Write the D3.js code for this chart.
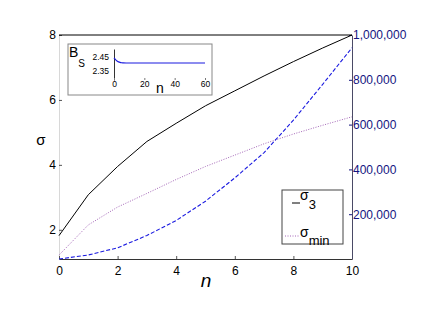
<!DOCTYPE html>
<html>
<head>
<meta charset="utf-8">
<script src="https://cdn.jsdelivr.net/npm/d3@7"></script>
<style>
  body { margin: 0; background: #fff; }
  text { font-family: "Liberation Sans", Arial, sans-serif; }
</style>
</head>
<body>
<div id="chart"></div>
<script>
// Width and height
var chartWidth  = 443;
var chartHeight = 313;

// data
var nValues     = [0, 1, 2, 3, 4, 5, 6, 7, 8, 9, 10];
var sigma3      = [1.82, 3.08, 3.95, 4.72, 5.28, 5.82, 6.28, 6.74, 7.18, 7.6, 8.0];
var sigmaMin    = [1.22, 2.15, 2.7, 3.12, 3.55, 3.95, 4.3, 4.65, 4.95, 5.22, 5.48];
var bigSeries   = [0, 18000, 50000, 105000, 172000, 258000, 362000, 475000, 620000, 780000, 943000];
var leftTicks   = [2, 4, 6, 8];
var rightTicks  = [200000, 400000, 600000, 800000, 1000000];
var bottomTicks = [0, 2, 4, 6, 8, 10];

// inset data
var insetN     = [0, 1, 2, 3, 4, 5, 6, 8, 10, 15, 20, 30, 40, 50, 60];
var insetB     = [2.44, 2.428, 2.419, 2.413, 2.409, 2.407, 2.406, 2.405, 2.405, 2.405, 2.405, 2.405, 2.405, 2.405, 2.405];
var insetYTicks = [2.35, 2.45];
var insetXTicks = [0, 20, 40, 60];

var navy = '#14147f';

var svg = d3.select('#chart')
    .append('svg')
    .attr('width', chartWidth)
    .attr('height', chartHeight);

svg.append('rect').attr('width', chartWidth).attr('height', chartHeight).attr('fill', '#fff');

// scales
var x = d3.scaleLinear().domain([0, 10]).range([59, 352]);
var yLeft = d3.scaleLinear().domain([1.1, 8]).range([259, 35]);
var yRight = d3.scaleLinear().domain([0, 1000000]).range([259, 35]);

// axes
var gLeft = svg.append('g')
    .attr('transform', 'translate(59,0)')
    .call(d3.axisLeft(yLeft).tickValues(leftTicks).tickFormat(d3.format('d'))
        .tickSize(-3).tickPadding(3).tickSizeOuter(0));
gLeft.select('.domain').attr('stroke', '#d8d8d8');
gLeft.selectAll('.tick line').attr('stroke', '#555');
gLeft.selectAll('text').attr('font-size', 12).attr('fill', '#000');

var gBottom = svg.append('g')
    .attr('transform', 'translate(0,259)')
    .call(d3.axisBottom(x).tickValues(bottomTicks).tickSize(-3).tickPadding(7).tickSizeOuter(0));
gBottom.select('.domain').attr('stroke', '#333');
gBottom.selectAll('.tick line').attr('stroke', '#555');
gBottom.selectAll('text').attr('font-size', 12).attr('fill', '#000');

var gRight = svg.append('g')
    .attr('transform', 'translate(352,0)')
    .call(d3.axisRight(yRight).tickValues(rightTicks).tickFormat(d3.format(','))
        .tickSize(-3).tickPadding(1).tickSizeOuter(0));
gRight.select('.domain').attr('stroke', '#4a4a66');
gRight.selectAll('.tick line').attr('stroke', navy);
gRight.selectAll('text').attr('font-size', 12).attr('fill', navy);

// top border
svg.append('line')
    .attr('x1', x(0)).attr('x2', x(10))
    .attr('y1', yLeft(8)).attr('y2', yLeft(8))
    .attr('stroke', '#000');

// lines
var lineLeft = function(vals){
    return d3.line()
        .x(function(d, i){ return x(nValues[i]); })
        .y(function(d){ return yLeft(d); })(vals);
};

svg.append('path')
    .attr('d', lineLeft(sigmaMin))
    .attr('fill', 'none')
    .attr('stroke', '#a466b8')
    .attr('stroke-width', 1)
    .attr('stroke-dasharray', '1,1.5');

svg.append('path')
    .attr('d', d3.line()
        .x(function(d, i){ return x(nValues[i]); })
        .y(function(d){ return yRight(d); })(bigSeries))
    .attr('fill', 'none')
    .attr('stroke', '#1a1ae0')
    .attr('stroke-width', 1.1)
    .attr('stroke-dasharray', '4,2');

svg.append('path')
    .attr('d', lineLeft(sigma3))
    .attr('fill', 'none')
    .attr('stroke', '#000')
    .attr('stroke-width', 1);

// axis labels
svg.append('text')
    .attr('x', 41).attr('y', 145)
    .attr('text-anchor', 'middle')
    .attr('font-size', 15)
    .text('σ');

svg.append('text')
    .attr('x', 206).attr('y', 287)
    .attr('text-anchor', 'middle')
    .attr('font-size', 19)
    .attr('font-style', 'italic')
    .text('n');

// legend
var legend = svg.append('g');
legend.append('rect')
    .attr('x', 282).attr('y', 190).attr('width', 61).attr('height', 54)
    .attr('fill', '#fff').attr('stroke', '#444');
legend.append('line')
    .attr('x1', 292).attr('x2', 300).attr('y1', 203).attr('y2', 203)
    .attr('stroke', '#000');
legend.append('line')
    .attr('x1', 285).attr('x2', 300).attr('y1', 236).attr('y2', 236)
    .attr('stroke', '#a466b8').attr('stroke-dasharray', '1,1.5');
var l1 = legend.append('text').attr('x', 300).attr('y', 200).attr('font-size', 14);
l1.append('tspan').text('σ');
l1.append('tspan').attr('dy', 9).attr('font-size', 13).text('3');
var l2 = legend.append('text').attr('x', 300).attr('y', 237).attr('font-size', 14);
l2.append('tspan').text('σ');
l2.append('tspan').attr('dy', 8).attr('font-size', 13).text('min');

// inset
var inset = svg.append('g');
inset.append('rect')
    .attr('x', 68).attr('y', 44).attr('width', 144).attr('height', 51)
    .attr('fill', '#fff').attr('stroke', '#888');

var ix = d3.scaleLinear().domain([0, 60]).range([114, 205]);
var iy = d3.scaleLinear().domain([2.29, 2.5]).range([80, 49]);

var giLeft = inset.append('g')
    .attr('transform', 'translate(114,0)')
    .call(d3.axisLeft(iy).tickValues(insetYTicks).tickSize(0).tickPadding(5).tickSizeOuter(0));
giLeft.select('.domain').attr('stroke', '#333');
giLeft.selectAll('text').attr('font-size', 8.5).attr('fill', '#000');

var giBottom = inset.append('g')
    .attr('transform', 'translate(0,80)')
    .call(d3.axisBottom(ix).tickValues(insetXTicks).tickSize(-2).tickPadding(1).tickSizeOuter(0));
giBottom.select('.domain').attr('stroke', 'none');
giBottom.selectAll('.tick line').attr('stroke', '#777');
giBottom.selectAll('text').attr('font-size', 8.5).attr('fill', '#000');

inset.append('path')
    .attr('d', d3.line()
        .x(function(d, i){ return ix(insetN[i]); })
        .y(function(d){ return iy(d); })
        .curve(d3.curveMonotoneX)(insetB))
    .attr('fill', 'none')
    .attr('stroke', '#1a1ae0')
    .attr('stroke-width', 1.2);

var bs = inset.append('text').attr('x', 69).attr('y', 57).attr('font-size', 14);
bs.append('tspan').text('B');
bs.append('tspan').attr('dy', 10).attr('font-size', 10).text('S');

inset.append('text')
    .attr('x', 160).attr('y', 93)
    .attr('text-anchor', 'middle')
    .attr('font-size', 14)
    .text('n');
</script>
</body>
</html>
